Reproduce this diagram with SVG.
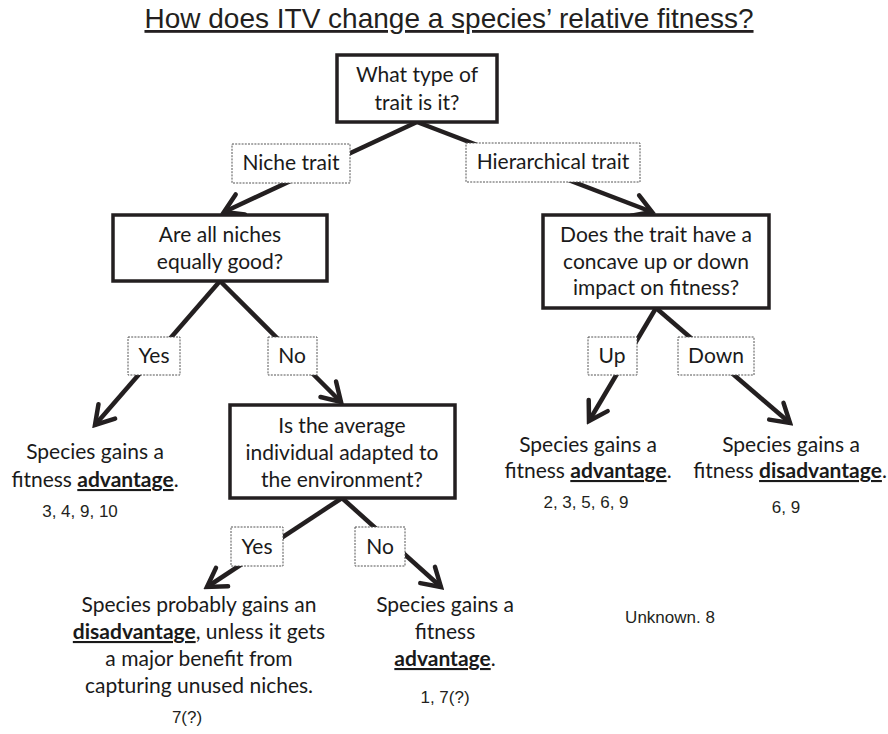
<svg xmlns="http://www.w3.org/2000/svg" width="888" height="734" viewBox="0 0 888 734">
<style>
.box{fill:#fff;stroke:#231f20;stroke-width:3.5}
.lbl{fill:#fff;stroke:#555;stroke-width:1;stroke-dasharray:2 1.2}
.t{font-family:Lato,"Open Sans","Noto Sans",sans-serif;font-size:21px;fill:#1a1a1a;text-anchor:middle}
.n{font-family:"Liberation Sans",Arial,sans-serif;font-size:17px;fill:#231f20;text-anchor:middle}
.b{font-weight:bold;text-decoration:underline}
.c{stroke:#231f20;stroke-width:4.5;fill:none}
</style>
<defs>
<marker id="ah" markerUnits="userSpaceOnUse" viewBox="-22 -14 26 28" refX="0" refY="0" markerWidth="26" markerHeight="28" orient="auto">
<path d="M-18,-11 L0,0 L-18,11" fill="none" stroke="#231f20" stroke-width="4.5" stroke-linecap="round" stroke-linejoin="miter"/>
</marker>
</defs>
<rect width="888" height="734" fill="#fff"/>
<text x="449" y="28" font-family="Liberation Sans,Arial,sans-serif" font-size="28" fill="#231f20" text-anchor="middle" text-decoration="underline">How does ITV change a species’ relative fitness?</text>
<g id="connectors">
<path class="c" d="M417,122 L224,212" marker-end="url(#ah)"/>
<path class="c" d="M417,122 L652,212" marker-end="url(#ah)"/>
<path class="c" d="M220,281 L95,425" marker-end="url(#ah)"/>
<path class="c" d="M220,281 L341,402" marker-end="url(#ah)"/>
<path class="c" d="M656,308 L589,421" marker-end="url(#ah)"/>
<path class="c" d="M656,308 L790,423" marker-end="url(#ah)"/>
<path class="c" d="M342,498 L207,587" marker-end="url(#ah)"/>
<path class="c" d="M342,498 L441,587" marker-end="url(#ah)"/>
</g>
<g id="q1"><rect class="box" x="337" y="55" width="160" height="67"/><text class="t" x="417" y="82">What type of</text><text class="t" x="417" y="110">trait is it?</text></g>
<g id="lbl-niche"><rect class="lbl" x="232" y="144" width="118" height="39"/><text class="t" x="291" y="170">Niche trait</text></g>
<g id="lbl-hier"><rect class="lbl" x="466" y="143" width="174" height="39"/><text class="t" x="553" y="169">Hierarchical trait</text></g>
<g id="q2"><rect class="box" x="113" y="215" width="214" height="66"/><text class="t" x="220" y="242">Are all niches</text><text class="t" x="220" y="269">equally good?</text></g>
<g id="q3"><rect class="box" x="543" y="215" width="226" height="93"/><text class="t" x="656" y="242">Does the trait have a</text><text class="t" x="656" y="269">concave up or down</text><text class="t" x="656" y="295">impact on fitness?</text></g>
<g id="lbl-yes1"><rect class="lbl" x="128" y="337" width="52" height="38"/><text class="t" x="154" y="363">Yes</text></g>
<g id="lbl-no1"><rect class="lbl" x="268" y="337" width="49" height="38"/><text class="t" x="292" y="363">No</text></g>
<g id="lbl-up"><rect class="lbl" x="588" y="337" width="49" height="38"/><text class="t" x="612" y="363">Up</text></g>
<g id="lbl-down"><rect class="lbl" x="678" y="337" width="76" height="38"/><text class="t" x="716" y="363">Down</text></g>
<g id="q4"><rect class="box" x="230" y="405" width="225" height="93"/><text class="t" x="342" y="433">Is the average</text><text class="t" x="342" y="460">individual adapted to</text><text class="t" x="342" y="487">the environment?</text></g>
<g id="r1"><text class="t" x="95" y="459">Species gains a</text><text class="t" x="95" y="487">fitness <tspan class="b">advantage</tspan>.</text><text class="n" x="80" y="517">3, 4, 9, 10</text></g>
<g id="r2"><text class="t" x="588" y="452">Species gains a</text><text class="t" x="588" y="478">fitness <tspan class="b">advantage</tspan>.</text><text class="n" x="586" y="508">2, 3, 5, 6, 9</text></g>
<g id="r3"><text class="t" x="791" y="452">Species gains a</text><text class="t" x="790" y="478">fitness <tspan class="b">disadvantage</tspan>.</text><text class="n" x="786" y="513">6, 9</text></g>
<g id="lbl-yes2"><rect class="lbl" x="231" y="527" width="52" height="39"/><text class="t" x="257" y="554">Yes</text></g>
<g id="lbl-no2"><rect class="lbl" x="355" y="527" width="50" height="39"/><text class="t" x="380" y="554">No</text></g>
<g id="r4"><text class="t" x="199" y="612">Species probably gains an</text><text class="t" x="199" y="639"><tspan class="b">disadvantage</tspan>, unless it gets</text><text class="t" x="199" y="666">a major benefit from</text><text class="t" x="199" y="693">capturing unused niches.</text><text class="n" x="187" y="723">7(?)</text></g>
<g id="r5"><text class="t" x="445" y="612">Species gains a</text><text class="t" x="445" y="639">fitness</text><text class="t" x="445" y="666"><tspan class="b">advantage</tspan>.</text><text class="n" x="445" y="703">1, 7(?)</text></g>
<g id="r6"><text class="n" x="670" y="623">Unknown. 8</text></g>
</svg>
